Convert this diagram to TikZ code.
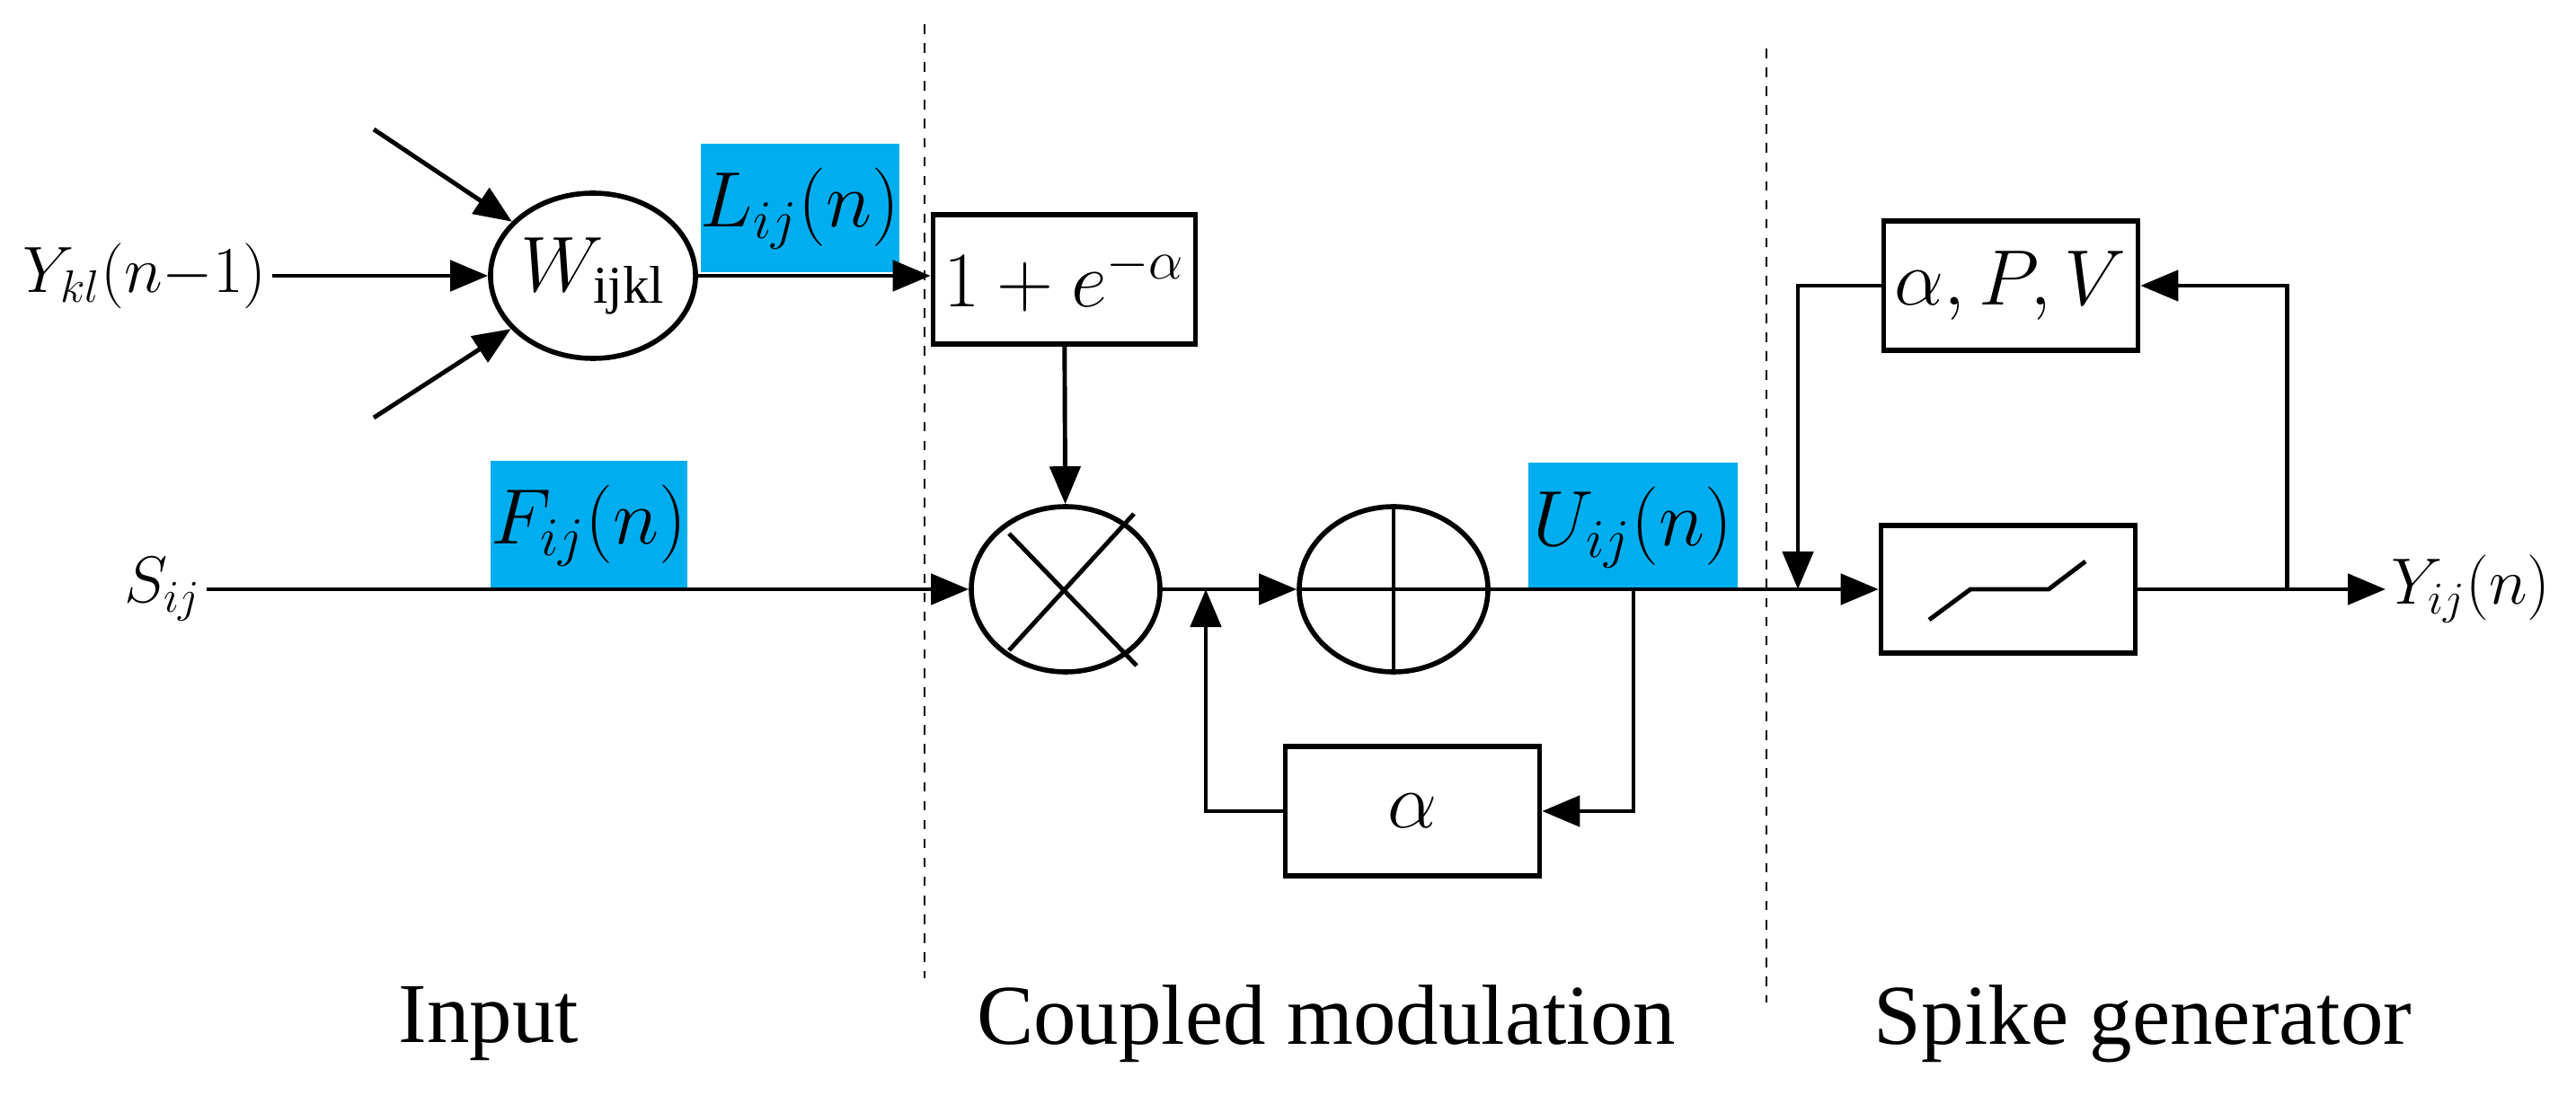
\documentclass[tikz,border=0pt]{standalone}
\usepackage{fontspec}
\setmainfont{Liberation Serif}
\usetikzlibrary{arrows.meta,shapes.geometric}
\definecolor{hlblue}{RGB}{0,174,239}
\begin{document}
\begin{tikzpicture}[line width=1.4pt]
    \tikzstyle{proc} = [rectangle, minimum width=2.83cm, minimum height=1.44cm, text centered, draw=black, line width=1.6pt, font=\fontsize{24}{28}\selectfont]
    \tikzstyle{proc1} = [ellipse, minimum width=2.1cm, minimum height=1.84cm, inner sep=0pt, draw=black, line width=1.6pt, font=\fontsize{24}{28}\selectfont]
    \tikzstyle{hl} = [fill=hlblue, inner sep=0pt, minimum width=2.17cm, minimum height=1.43cm, font=\fontsize{24}{28}\selectfont]
    \tikzstyle{lbl} = [inner sep=1pt, font=\fontsize{21}{25}\selectfont]
    \tikzstyle{sect} = [font=\fontsize{27}{32}\selectfont]
    \tikzstyle{arrow} = [-{Triangle[length=0.42cm,width=0.34cm]}]
    \useasboundingbox (0,0) rectangle (28.67,-12.19);
    % separators
    \draw[dashed, line width=0.8pt] (10.29,-0.27) -- (10.29,-10.89);
    \draw[dashed, line width=0.8pt] (19.66,-0.54) -- (19.66,-11.16);
    % input
    \node (ykl) [lbl, anchor=west] at (0.2,-3.07) {$Y_{kl}(n{-}1)$};
    \node (w) [proc1] at (6.60,-3.07) {$W_{\mathrm{ijkl}}$};
    \coordinate (in1) at (4.16,-1.44);
    \coordinate (in2) at (4.16,-4.65);
    \node (s) [lbl, anchor=east] at (2.3,-6.56) {$S_{ij}$};
    \node (lhl) [hl] at (8.905,-2.32) {$L_{ij}(n)$};
    \node (fhl) [hl] at (6.555,-5.85) {$F_{ij}(n)$};
    % coupled modulation
    \node (one) [proc] at (11.845,-3.11) {$1+e^{-\alpha}$};
    \node (mul) [proc1] at (11.86,-6.56) {};
    \draw ([shift={(-0.63,-0.68)}]mul.center) -- ([shift={(0.76,0.84)}]mul.center);
    \draw ([shift={(-0.63,0.62)}]mul.center) -- ([shift={(0.79,-0.85)}]mul.center);
    \node (add) [proc1] at (15.51,-6.56) {};
    \draw (add.west) -- (add.east);
    \draw (add.north) -- (add.south);
    \node (alpha) [proc] at (15.72,-9.03) {$\alpha$};
    \node (uhl) [hl, minimum width=2.33cm] at (18.175,-5.87) {$U_{ij}(n)$};
    \coordinate (jfb) at (13.42,-6.56);
    \coordinate (ju) at (18.18,-6.56);
    % spike generator
    \node (apv) [proc] at (22.38,-3.18) {$\alpha,P,V$};
    \node (step) [proc, minimum height=1.42cm] at (22.35,-6.56) {};
    \draw ([shift={(-0.88,-0.34)}]step.center) -- ([shift={(-0.42,0)}]step.center)
      -- ([shift={(0.45,0)}]step.center) -- ([shift={(0.86,0.31)}]step.center);
    \coordinate (jy) at (25.45,-6.56);
    \coordinate (jin) at (20.01,-6.56);
    \node (yij) [lbl, anchor=west] at (26.55,-6.56) {$Y_{ij}(n)$};
    % labels
    \node (cin) [sect] at (5.44,-11.4) {Input};
    \node (ccm) [sect] at (14.76,-11.4) {Coupled modulation};
    \node (csg) [sect] at (23.85,-11.4) {Spike generator};
    % connections
    \draw[arrow] (ykl) -- (w);
    \draw[arrow] (in1) -- (w);
    \draw[arrow] (in2) -- (w);
    \draw[arrow] (w.east) -- (one.west |- w.east);
    \draw[arrow] (one) -- (mul);
    \draw[arrow] (s.east |- mul.west) -- (mul.west);
    \draw[arrow] (mul.east) -- (add.west);
    \draw[arrow] (alpha.west) -| (jfb);
    \draw[arrow] (ju) |- (alpha.east);
    \draw[arrow] (add.east) -- (step.west);
    \draw[arrow] (step.east) -- (yij.west);
    \draw[arrow] (jy) |- (apv.east);
    \draw[arrow] (apv.west) -| (jin);
\end{tikzpicture}
\end{document}
